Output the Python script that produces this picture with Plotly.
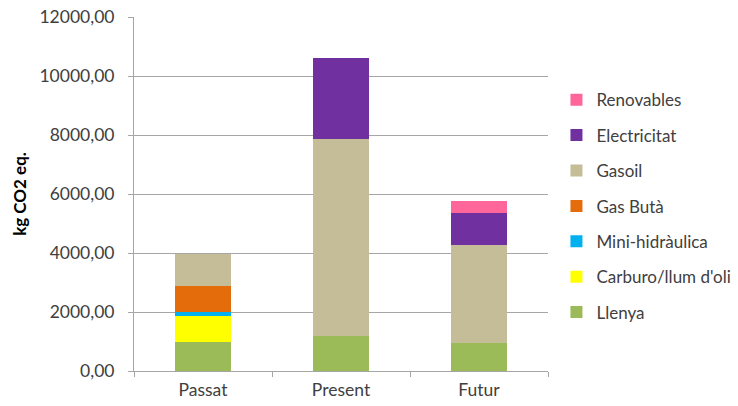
import plotly.graph_objects as go

# Emissions per period, stacked by energy source (kg CO2 eq.)
periods = ["Passat", "Present", "Futur"]
llenya = [1000, 1190, 960]
carburo = [860, 0, 0]
mini_hidraulica = [150, 0, 0]
gas_buta = [860, 0, 0]
gasoil = [1110, 6690, 3300]
electricitat = [0, 2740, 1100]
renovables = [0, 0, 400]

series = [
    ("Llenya", llenya, "#9BBB59"),
    ("Carburo/llum d'oli", carburo, "#FFFF00"),
    ("Mini-hidràulica", mini_hidraulica, "#00B0F0"),
    ("Gas Butà", gas_buta, "#E46C0A"),
    ("Gasoil", gasoil, "#C4BD97"),
    ("Electricitat", electricitat, "#7030A0"),
    ("Renovables", renovables, "#FF6699"),
]

fig = go.Figure()
n = len(series)
for i, (name, vals, color) in enumerate(series):
    fig.add_trace(go.Bar(
        x=periods, y=vals, name=name, legendgroup=name,
        legendrank=n - i,  # top of the stack listed first
        marker=dict(color=color, line=dict(width=0)),
    ))

grid = "#A6A6A6"
fs = 17.5
fig.update_layout(
    width=738, height=406,
    barmode="stack", bargap=0.6,
    separators=",.",
    plot_bgcolor="white", paper_bgcolor="white",
    font=dict(family="Lato, Open Sans, sans-serif", size=fs, color="#404040"),
    margin=dict(l=134, r=190, t=17, b=35, autoexpand=False),
    legend=dict(
        traceorder="grouped", tracegroupgap=10.3,
        xref="container", x=0.754, xanchor="left",
        y=0.816, yanchor="top",
        font=dict(size=17, color="#404040"),
        itemwidth=30,
    ),
    xaxis=dict(
        automargin=False,
        showline=True, linecolor=grid, linewidth=1,
        ticks="outside", tickson="boundaries", ticklen=5, tickcolor=grid,
        tickfont=dict(size=fs), ticklabelstandoff=3,
    ),
    yaxis=dict(
        automargin=False,
        range=[0, 12000], dtick=2000, tickformat=".2f",
        showgrid=True, gridcolor=grid, gridwidth=1,
        showline=True, linecolor=grid, linewidth=1,
        ticks="outside", ticklen=5, tickcolor=grid,
        zeroline=False,
        tickfont=dict(size=fs), ticklabelstandoff=10,
        title=dict(text="<b>kg CO2 eq.</b>", font=dict(size=17, color="#000000"), standoff=8),
    ),
)

fig.write_html("out.html")
